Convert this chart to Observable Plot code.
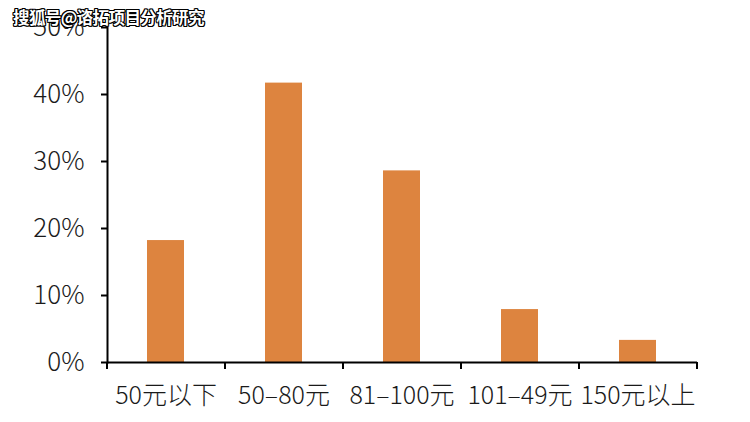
<!DOCTYPE html>
<html>
<head>
<meta charset="utf-8">
<script src="https://cdn.jsdelivr.net/npm/d3@7"></script>
<script src="https://cdn.jsdelivr.net/npm/@observablehq/plot@0.6"></script>
<style>
  html, body { margin: 0; padding: 0; background: #fff; }
  #wrap { position: relative; width: 750px; height: 422px; }
  #wm { position: absolute; left: 13px; top: 5px; font-family: "Noto Sans CJK SC", sans-serif; font-weight: 700; font-size: 16.5px; color: #fff; letter-spacing: -0.6px;
        text-shadow: -1px -1px 0 #000, 1px -1px 0 #000, -1px 1px 0 #000, 1px 1px 0 #000, 0 1px 0 #000, 0 -1px 0 #000, 1px 0 0 #000, -1px 0 0 #000; white-space: nowrap; }
  svg text { font-weight: 300; }
</style>
</head>
<body>
<div id="wrap"><div id="wm">搜狐号@谘拓项目分析研究</div></div>
<script>
const categories = ["50元以下", "50–80元", "81–100元", "101–49元", "150元以上"];
const shares = [0.182, 0.417, 0.286, 0.079, 0.033];
const yTicks = [0, 0.1, 0.2, 0.3, 0.4, 0.5];

const data = categories.map((c, i) => ({category: c, share: shares[i]}));

const W = 750, H = 422;
const ml = 107, mr = 53, mt = 27, mb = 60;
const step = (W - ml - mr) / categories.length;
const font = '"Noto Sans CJK SC", "Noto Sans", sans-serif';

const chart = Plot.plot({
  width: W,
  height: H,
  marginLeft: ml,
  marginRight: mr,
  marginTop: mt,
  marginBottom: mb,
  style: {fontFamily: font, color: "#1a1a1a", background: "transparent", overflow: "visible"},
  x: {domain: categories, paddingInner: 0.686, paddingOuter: 0.343, label: null},
  y: {domain: [0, 0.5], label: null},
  marks: [
    Plot.barY(data, {x: "category", y: "share", fill: "#DD843F"}),
    Plot.axisY({ticks: yTicks, tickFormat: d => Math.round(d * 100) + "%", tickSize: 6, tickPadding: 17, fontSize: 26, strokeWidth: 2, stroke: "#000", fill: "#1a1a1a", label: null}),
    Plot.axisX({tickSize: 0, tickPadding: 24, fontSize: 25, fill: "#1a1a1a", label: null}),
    Plot.axisX({tickSize: 7, dx: -step / 2, text: null, strokeWidth: 2, stroke: "#000", label: null}),
    Plot.axisX({ticks: [categories[categories.length - 1]], tickSize: 7, dx: step / 2, text: null, strokeWidth: 2, stroke: "#000", label: null}),
    Plot.frame({anchor: "left", stroke: "#000", strokeWidth: 2}),
    Plot.ruleY([0], {stroke: "#000", strokeWidth: 2})
  ]
});
document.getElementById("wrap").insertBefore(chart, document.getElementById("wm"));
chart.style.position = "absolute";
chart.style.left = "0";
chart.style.top = "0";
</script>
</body>
</html>
